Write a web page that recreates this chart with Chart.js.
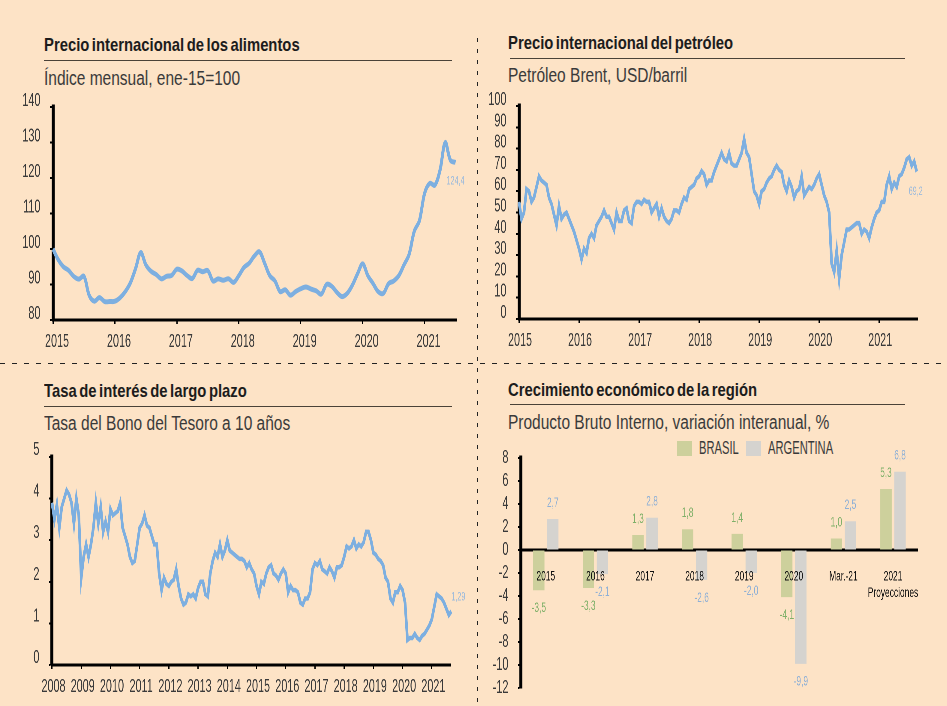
<!DOCTYPE html>
<html>
<head>
<meta charset="utf-8">
<script src="https://cdn.jsdelivr.net/npm/chart.js@4"></script>
<style>
  html, body { margin: 0; padding: 0; }
  body { width: 947px; height: 706px; background: #fde3c6; position: relative; overflow: hidden; font-family: "Liberation Sans", sans-serif; }
  canvas { position: absolute; transform-origin: 0 0; }
  .title { position: absolute; font-weight: bold; font-size: 19px; line-height: 22px; color: #1c1c1c; white-space: nowrap; word-spacing: -2px; transform: scaleX(.78); transform-origin: 0 0; }
  .sub { position: absolute; font-size: 20px; line-height: 24px; color: #3a3a3a; white-space: nowrap; transform: scaleX(.775); transform-origin: 0 0; }
  .rule { position: absolute; height: 1px; background: #4a4238; }
  .vdash { position: absolute; left: 477px; top: 38px; width: 1px; height: 668px; background: repeating-linear-gradient(to bottom, #222 0 4px, transparent 4px 11px); }
  .hdash { position: absolute; left: 0; top: 363px; width: 947px; height: 1px; background: repeating-linear-gradient(to right, #222 0 5px, transparent 5px 12px); }
  .swatch { position: absolute; width: 15px; height: 15px; top: 441px; }
  .leg { position: absolute; font-size: 18px; line-height: 20px; top: 438px; color: #3a3a3a; white-space: nowrap; transform: scaleX(.62); transform-origin: 0 0; }
</style>
</head>
<body>
<div class="vdash"></div>
<div class="hdash"></div>

<div class="title" style="left:44px;top:34px">Precio internacional de los alimentos</div>
<div class="rule" style="left:44px;top:60px;width:408px"></div>
<div class="sub" style="left:44px;top:66px">Índice mensual, ene-15=100</div>

<div class="title" style="left:508px;top:32px">Precio internacional del petróleo</div>
<div class="rule" style="left:510px;top:58px;width:395px"></div>
<div class="sub" style="left:508px;top:63px">Petróleo Brent, USD/barril</div>

<div class="title" style="left:44px;top:380px">Tasa de interés de largo plazo</div>
<div class="rule" style="left:44px;top:406px;width:408px"></div>
<div class="sub" style="left:44px;top:411px">Tasa del Bono del Tesoro a 10 años</div>

<div class="title" style="left:508px;top:379px">Crecimiento económico de la región</div>
<div class="rule" style="left:510px;top:404px;width:395px"></div>
<div class="sub" style="left:508px;top:410px">Producto Bruto Interno, variación interanual, %</div>

<div class="swatch" style="left:677px;background:#cdd09c"></div>
<div class="leg" style="left:699px">BRASIL</div>
<div class="swatch" style="left:746px;background:#d5d3cf"></div>
<div class="leg" style="left:768px">ARGENTINA</div>

<canvas id="food"></canvas>
<canvas id="oil"></canvas>
<canvas id="rate"></canvas>
<canvas id="gdp"></canvas>

<script>
const foodValues = [
  100, 97, 95, 94, 92.3, 91.5, 92.3, 87, 85.3, 86.3, 85.2, 85.2,
  85.3, 86.3, 88, 90.5, 94.5, 99, 95.5, 93.7, 92.8, 91.6, 92.3, 92.6,
  94.3, 93.8, 92.5, 91.7, 94, 93.6, 93.9, 91, 91.6, 91.2, 91.6, 90.6,
  92.5, 94.8, 96, 98, 99.2, 96, 92.5, 91, 88, 88.5, 87, 88,
  88.8, 89.3, 88.7, 88.2, 87.3, 90, 89.5, 87.8, 86.6, 87.5, 89.8, 93,
  95.8, 92.5, 90.3, 88, 87.5, 90.2, 91, 92.5, 95.5, 98.5, 105, 108,
  115.7, 118.5, 118, 122.3, 130, 125, 124.4
];
const oilValues = [
  55, 47, 50, 61, 60, 55, 57, 62, 67, 65, 64, 63, 57, 54, 49, 44, 53, 47, 49, 50, 47, 44, 41, 37,
  33, 28, 33, 31, 38, 40, 38, 44, 46, 48, 51, 48, 48, 45, 42, 50, 46, 46, 51, 52, 46, 45, 53, 55,
  55, 54, 56, 55, 55, 50, 52, 54, 48, 52, 48, 46, 45, 47, 51, 51, 50, 54, 57, 56, 61, 62, 63, 66,
  67, 69.5, 68, 63, 65, 65, 69, 72, 75, 78, 75, 74, 78, 73, 72, 72, 75, 78, 84.5, 78, 76, 68, 60, 58,
  54, 60, 61, 64, 66, 67, 70, 72, 70, 69, 63, 60, 65, 62, 57, 60, 61, 67, 58, 60, 62, 61, 63, 66,
  68, 63, 58, 55, 50, 26, 22, 32, 19, 30, 36, 42, 42, 43, 44, 45, 45, 40, 42, 41, 38, 43, 47, 50,
  51, 55, 55, 63, 67, 61, 64, 62, 67, 68, 71, 75, 76, 72, 74, 69.2
];
const rateValues = [
  3.9, 3.5, 3.85, 3.3, 3.8, 4.0, 4.2, 4.1, 3.9, 3.4, 4.0, 3.6,
  2.1, 2.6, 2.9, 2.6, 2.9, 3.3, 3.9, 3.4, 3.8, 3.2, 3.45, 3.2,
  3.75, 3.6, 3.65, 3.7, 3.9, 3.3, 3.1, 2.9, 2.6, 2.45, 2.5, 2.9,
  3.3, 3.4, 3.6, 3.35, 3.3, 3.1, 2.9, 2.9, 2.2, 1.8, 2.1, 1.95,
  1.9, 2.0, 2.05, 2.3, 1.9, 1.6, 1.45, 1.5, 1.7, 1.65, 1.7, 1.6,
  1.85, 2.0, 2.0, 1.7, 1.65, 2.2, 2.5, 2.7, 2.6, 2.9, 2.6, 2.75,
  3.0, 2.75, 2.7, 2.65, 2.6, 2.55, 2.55, 2.5, 2.35, 2.45, 2.3, 2.2,
  1.9, 1.7, 2.0, 1.95, 2.2, 2.35, 2.4, 2.2, 2.15, 2.05, 2.2, 2.3,
  2.2, 1.75, 1.9, 1.8, 1.8, 1.75, 1.5, 1.45, 1.6, 1.6, 1.75, 2.3,
  2.45, 2.4, 2.5, 2.3, 2.25, 2.2, 2.35, 2.25, 2.1, 2.35, 2.35, 2.4,
  2.6, 2.85, 2.8, 2.85, 3.0, 2.8, 2.9, 2.85, 2.95, 3.2, 3.2, 3.0,
  2.7, 2.65, 2.55, 2.5, 2.4, 2.1, 2.0, 1.6, 1.5, 1.75, 1.75, 1.9,
  1.8, 1.5, 0.6, 0.65, 0.65, 0.75, 0.65, 0.6, 0.7, 0.75, 0.85, 0.95,
  1.1, 1.4, 1.7, 1.65, 1.6, 1.5, 1.35, 1.2, 1.29
];
const gdpCategories = ['2015', '2016', '2017', '2018', '2019', '2020', 'Mar.-21', ['2021', 'Proyecciones']];
const brasilValues = [-3.5, -3.3, 1.3, 1.8, 1.4, -4.1, 1.0, 5.3];
const argentinaValues = [2.7, -2.1, 2.8, -2.6, -2.0, -9.9, 2.5, 6.8];

// everything on the canvases is squeezed sideways, the reference type is very condensed
const K = 0.6;
const FONT = '"Liberation Sans", sans-serif';
const LINE = '#7dafe0';
const INK = '#3a3a3a';

const valueLabels = {
  id: 'valueLabels',
  afterDatasetsDraw(chart, args, opts) {
    const ctx = chart.ctx;
    ctx.save();
    ctx.textAlign = 'center';
    ctx.textBaseline = 'middle';
    chart.data.datasets.forEach((ds, i) => {
      const pts = chart.getDatasetMeta(i).data;
      ctx.fillStyle = ds.labelColor;
      ctx.font = opts.size + 'px ' + FONT;
      if (chart.config.type === 'line') {
        const last = pts[pts.length - 1];
        const v = ds.data[ds.data.length - 1].y;
        ctx.fillText(String(v).replace('.', ','), last.x + opts.dx / K, last.y + opts.dy);
      } else {
        pts.forEach((bar, j) => {
          const v = ds.data[j];
          ctx.fillText(v.toFixed(1).replace('.', ','), bar.x, bar.y + (v < 0 ? 18 : -16));
        });
      }
    });
    ctx.restore();
  }
};

// tick labels must not push the plot area around
const noPadding = s => {
  s.paddingTop = 0;
  s.paddingBottom = 0;
  s.paddingLeft = 0;
  s.paddingRight = 0;
};

const makeScaleY = (min, max, step, width, offset) => ({
  min: min,
  max: max,
  ticks: { stepSize: step, autoSkip: false, color: INK, font: { family: FONT, size: 18 }, padding: 16, labelOffset: offset },
  border: { color: '#000', width: 5 },
  grid: { drawOnChartArea: false, tickColor: '#000', tickLength: 5, tickWidth: 2 },
  afterFit: s => { s.width = width; noPadding(s); }
});

const makeLine = (id, box, values, startYear, perYear, yMin, yMax, yStep, xMax, lineWidth, tension, xOffset, labelDx, labelDy, offset) => {
  const canvas = document.getElementById(id);
  canvas.width = box.w / K;
  canvas.height = box.h;
  canvas.style.left = box.x + 'px';
  canvas.style.top = box.y + 'px';
  canvas.style.transform = 'scaleX(' + K + ')';
  return new Chart(canvas, {
    type: 'line',
    data: {
      datasets: [{
        data: values.map((v, i) => ({ x: startYear + i / perYear, y: v })),
        borderColor: LINE,
        borderWidth: lineWidth,
        pointRadius: 0,
        tension: tension,
        clip: false,
        labelColor: '#9dbbdc'
      }]
    },
    plugins: [valueLabels],
    options: {
      responsive: false,
      animation: false,
      devicePixelRatio: 2,
      layout: { autoPadding: false, padding: { top: box.top, right: box.right / K, left: 0, bottom: 0 } },
      plugins: {
        legend: { display: false },
        tooltip: { enabled: false },
        valueLabels: { size: 12, dx: labelDx, dy: labelDy }
      },
      scales: {
        x: {
          type: 'linear',
          min: startYear,
          max: xMax,
          ticks: {
            stepSize: 1, includeBounds: false, autoSkip: false, maxRotation: 0, color: INK, padding: 7, labelOffset: xOffset / K,
            font: { family: FONT, size: 18 },
            callback: v => String(v)
          },
          border: { color: '#000', width: 3 },
          grid: { drawOnChartArea: false, tickColor: '#000', tickLength: 4, tickWidth: 2 },
          afterFit: s => { s.height = box.bottom; noPadding(s); }
        },
        y: makeScaleY(yMin, yMax, yStep, box.left / K, offset)
      }
    }
  });
};

makeLine('food', { x: 0, y: 85, w: 470, h: 265, left: 53, right: 13, top: 22, bottom: 30 },
  foodValues, 2015, 12, 80, 140, 10, 2021.52, 5, 0.35, 4, 0, 19, -6);
makeLine('oil', { x: 478, y: 85, w: 460, h: 265, left: 41, right: 20, top: 21, bottom: 31 },
  oilValues, 2015, 24, 0, 100, 10, 2021.64, 4.5, 0, 1, -1, 20, -6);
makeLine('rate', { x: 0, y: 435, w: 470, h: 265, left: 52, right: 19, top: 22, bottom: 35 },
  rateValues, 2008, 12, 0, 5, 1, 2021.65, 4.5, 0, 1.5, 7, -14, -7);

const gdpCanvas = document.getElementById('gdp');
gdpCanvas.width = 440 / K;
gdpCanvas.height = 265;
gdpCanvas.style.left = '490px';
gdpCanvas.style.top = '440px';
gdpCanvas.style.transform = 'scaleX(' + K + ')';

new Chart(gdpCanvas, {
  type: 'bar',
  data: {
    labels: gdpCategories,
    datasets: [
      { label: 'BRASIL', data: brasilValues, backgroundColor: '#cdd09c', labelColor: '#7fb069' },
      { label: 'ARGENTINA', data: argentinaValues, backgroundColor: '#d5d3cf', labelColor: '#8fb0d6' }
    ]
  },
  plugins: [valueLabels],
  options: {
    responsive: false,
    animation: false,
    devicePixelRatio: 2,
    layout: { autoPadding: false, padding: { top: 18, right: 12 / K, left: 0, bottom: 17 } },
    datasets: { bar: { categoryPercentage: 0.565, barPercentage: 0.81 } },
    plugins: {
      legend: { display: false },
      tooltip: { enabled: false },
      valueLabels: { size: 14 }
    },
    scales: {
      x: {
        position: { y: 0 },
        ticks: {
          autoSkip: false, maxRotation: 0, color: '#111', padding: 10, z: 1,
          font: { family: FONT, size: 14 }
        },
        border: { color: '#000', width: 3 },
        grid: { display: false },
        afterFit: noPadding
      },
      y: makeScaleY(-12, 8, 2, 31 / K, 0)
    }
  }
});
</script>
</body>
</html>
